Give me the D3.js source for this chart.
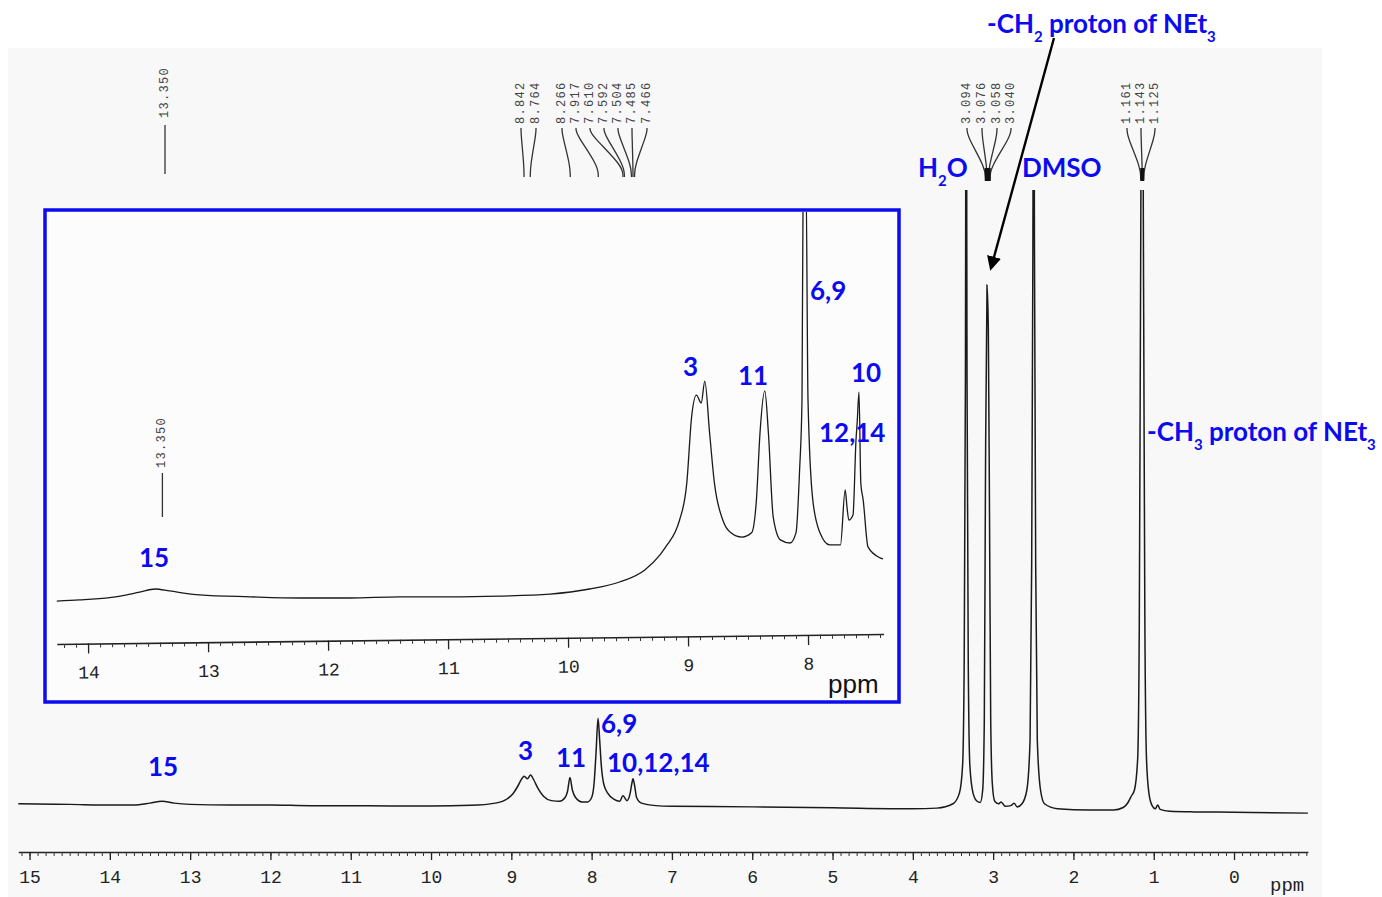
<!DOCTYPE html>
<html><head><meta charset="utf-8">
<script src="https://cdn.jsdelivr.net/npm/d3@7"></script>
<style>body{margin:0;background:#fff}</style>
</head><body>
<svg id="c" width="1382" height="897"></svg>
<script>
// ---------------- DATA ----------------
// main 1H NMR trace: [ppm, relative intensity]
const mainSpectrum = [
 [15.14,1.8],[14.5,1.7],[14.0,1.6],[13.7,1.6],[13.5,1.9],[13.35,2.2],[13.2,1.9],[13.0,1.7],[12.5,1.6],[12.0,1.6],
 [11.5,1.5],[11.0,1.5],[10.5,1.45],[10.0,1.45],[9.5,1.55],[9.2,1.9],[9.05,2.6],[8.98,3.4],[8.92,4.6],[8.87,5.8],
 [8.84,6.2],[8.80,5.8],[8.76,6.4],[8.72,5.6],[8.67,4.3],[8.60,3.0],[8.50,2.3],[8.40,2.2],[8.33,2.8],[8.30,3.8],
 [8.27,6.0],[8.24,4.0],[8.20,2.8],[8.12,2.1],[8.05,2.1],[8.0,2.8],[7.97,5.0],[7.945,10],[7.92,15.5],[7.90,12],
 [7.88,8],[7.85,5],[7.80,3.5],[7.72,2.5],[7.65,2.2],[7.61,3.1],[7.595,2.9],[7.56,2.3],[7.52,3.5],[7.50,5.0],
 [7.485,5.8],[7.466,4.8],[7.44,2.8],[7.38,1.9],[7.2,1.5],[7.0,1.4],[6.0,1.3],[5.0,1.15],[4.0,1.0],[3.7,1.1],
 [3.5,1.8],[3.42,3.5],[3.38,8],[3.36,25],[3.345,70],[3.335,140],[3.325,70],[3.31,25],[3.29,8],[3.25,3.5],
 [3.20,2.2],[3.16,2.0],[3.13,4],[3.11,15],[3.095,55],[3.076,84.8],[3.06,78],[3.045,48],[3.03,15],[3.01,5],
 [2.98,2.2],[2.93,1.8],[2.90,2.1],[2.85,1.4],[2.78,1.5],[2.74,1.9],[2.70,1.3],[2.64,1.8],[2.58,4],[2.54,12],
 [2.52,40],[2.505,90],[2.495,140],[2.485,90],[2.47,40],[2.45,12],[2.41,4],[2.36,1.8],[2.2,1.0],[1.8,0.8],
 [1.5,0.8],[1.38,1.2],[1.32,2.0],[1.28,3.0],[1.24,4.0],[1.20,9],[1.18,30],[1.165,80],[1.145,140],[1.125,80],
 [1.11,30],[1.09,9],[1.06,3.5],[1.02,1.5],[0.98,1.0],[0.95,1.6],[0.92,0.9],[0.80,0.6],[0.5,0.5],[0.0,0.45],[-0.92,0.3]
];
// inset (expanded aromatic region) trace: [ppm, relative intensity]
const insetSpectrum = [
 [14.26,1.0],[14.07,1.3],[13.73,2.3],[13.57,3.3],[13.44,4.1],[13.32,3.6],[13.07,2.6],[12.65,2.1],[12.23,1.8],[11.82,1.8],
 [11.4,2.1],[10.98,2.1],[10.57,2.3],[10.15,2.8],[9.82,4.1],[9.57,5.9],[9.36,9.0],[9.23,13.0],[9.17,15.6],[9.11,18.5],
 [9.07,21.8],[9.01,31.3],[8.97,48.2],[8.93,53.8],[8.89,51.8],[8.86,57.4],[8.82,44.1],[8.78,31.3],[8.71,21.8],[8.65,18.7],
 [8.55,17.4],[8.47,18.5],[8.43,26.9],[8.40,44.1],[8.36,54.9],[8.33,44.1],[8.29,22.6],[8.23,16.7],[8.15,15.9],[8.10,18.5],
 [8.07,34.6],[8.05,52.6],[8.04,110],[8.017,110],[8.0,52.6],[7.96,26.9],[7.90,18.5],[7.82,15.4],[7.73,15.4],[7.69,29.5],
 [7.675,25.1],[7.66,21.8],[7.625,23.1],[7.60,42.3],[7.59,46.9],[7.575,54.6],[7.56,31.3],[7.54,26.9],[7.50,14.9],[7.40,12.1],[7.375,11.8]
];
const mainTickLabels = [15,14,13,12,11,10,9,8,7,6,5,4,3,2,1,0];
const insetTickLabels = [14,13,12,11,10,9,8];
const peakClusters = [
 [13.350],
 [8.842,8.764],
 [8.266,7.917,7.610,7.592,7.504,7.485,7.466],
 [3.094,3.076,3.058,3.040],
 [1.161,1.143,1.125]
];
const insetMarker = [13.350];
const mainAssignments = ["15","3","11","6,9","10,12,14"];
const insetAssignments = ["15","3","11","6,9","10","12,14"];

// ---------------- LAYOUT ----------------
const L = {
  mainAssignXY: [[148,776],[518,760],[556,767],[601,733],[607,772]],
  insetAssignXY: [[139,567],[683,376],[738,385],[810,300],[851,382],[819,442]],
  clusterLabelX: [[165],[521,536],[562,576,590,604,618,632,647],[967,982,997,1011],[1127,1141,1155]],
  blue: "#0b0bf0"
};

const svg = d3.select("#c");
svg.append("rect").attr("width",1382).attr("height",897).attr("fill","#fff");
svg.append("rect").attr("x",8).attr("y",48).attr("width",1314).attr("height",849).attr("fill","#f8f8f8");

const defs = svg.append("defs");
defs.append("clipPath").attr("id","mainClip").append("rect").attr("x",0).attr("y",190).attr("width",1382).attr("height",707);
defs.append("clipPath").attr("id","insetClip").append("rect").attr("x",47).attr("y",212).attr("width",850).attr("height",488);
defs.append("marker").attr("id","arr").attr("viewBox","0 0 10 10").attr("refX",8).attr("refY",5)
  .attr("markerWidth",6).attr("markerHeight",6).attr("orient","auto-start-reverse").attr("markerUnits","strokeWidth")
  .append("path").attr("d","M0,0 L10,5 L0,10 z").attr("fill","#000");

// ---------------- MAIN SPECTRUM ----------------
const x = d3.scaleLinear().domain([15.14,-0.92]).range([18.3,1307.9]);
const y = d3.scaleLinear().domain([0,100]).range([815,190]);
const line = d3.line().x(d=>x(d[0])).y(d=>y(d[1])).curve(d3.curveMonotoneX);

svg.append("path").datum(mainSpectrum.slice().sort((a,b)=>a[0]-b[0]))
  .attr("clip-path","url(#mainClip)")
  .attr("d",line).attr("fill","none").attr("stroke","#1a1a1a").attr("stroke-width",1.5);

const axisY = 852;
const minor = d3.range(-9,152).map(v=>v/10).filter(v=>v<=15.14 && v>=-0.92);
svg.append("g").attr("transform",`translate(0,${axisY})`)
  .call(d3.axisBottom(x).tickValues(minor).tickSize(4).tickFormat("").tickSizeOuter(0))
  .call(g=>g.select(".domain").attr("stroke","#222").attr("stroke-width",1.6))
  .call(g=>g.selectAll(".tick line").attr("stroke","#333"));
svg.append("g").attr("transform",`translate(0,${axisY})`)
  .call(d3.axisBottom(x).tickValues(mainTickLabels).tickSize(8).tickPadding(10).tickFormat(d3.format("d")).tickSizeOuter(0))
  .call(g=>g.select(".domain").remove())
  .call(g=>g.selectAll(".tick line").attr("stroke","#222").attr("stroke-width",1.3))
  .call(g=>g.selectAll("text").attr("font-family","Liberation Mono").attr("font-size",18).attr("fill","#222"));
svg.append("text").attr("x",1270).attr("y",891).attr("font-family","Liberation Mono").attr("font-size",19)
  .attr("fill","#222").text("ppm");

// peak-picking labels
peakClusters.forEach((cl,ci)=>{
  cl.forEach((p,i)=>{
    const lx = L.clusterLabelX[ci][i], px = x(p);
    const single = cl.length===1;
    const topText = single ? 118 : 124;
    svg.append("text").attr("transform",`translate(${lx},${topText}) rotate(-90)`)
      .attr("dominant-baseline","central").attr("font-family","Liberation Mono").attr("font-size",12)
      .attr("letter-spacing",1.3).attr("fill","#444").text(p.toFixed(3));
    let pts;
    if (single) pts = [[lx,125],[lx,174]];
    else if (ci>=3) pts = [[lx,128],[lx,136],[px,168],[px,180]];
    else pts = [[lx,128],[lx,134],[px,166],[px,177]];
    svg.append("path").attr("d",d3.line().curve(d3.curveBasis)(pts))
      .attr("fill","none").attr("stroke","#333").attr("stroke-width",1.3);
  });
  if (cl.length>2 && (ci>=3)) {
    const px = d3.mean(cl,p=>x(p));
    svg.append("line").attr("x1",px).attr("x2",px).attr("y1",168).attr("y2",181)
      .attr("stroke","#111").attr("stroke-width",ci===3?6:4);
  }
});

// ---------------- INSET ----------------
svg.append("rect").attr("x",45).attr("y",210).attr("width",854).attr("height",492)
  .attr("fill","#fcfcfc").attr("stroke",L.blue).attr("stroke-width",3.5);
const xi = d3.scaleLinear().domain([14.3,7.3]).range([52,892]);
const yi = d3.scaleLinear().domain([0,100]).range([605,215]);
const lineI = d3.line().x(d=>xi(d[0])).y(d=>yi(d[1])).curve(d3.curveMonotoneX);
svg.append("path").datum(insetSpectrum.slice().sort((a,b)=>a[0]-b[0]))
  .attr("clip-path","url(#insetClip)")
  .attr("d",lineI).attr("fill","none").attr("stroke","#1a1a1a").attr("stroke-width",1.3);

const insetAxisG = svg.append("g").attr("transform","rotate(-0.69,470,639)");
const xiAxis = d3.scaleLinear().domain([14.26,7.37]).range([xi(14.26),xi(7.37)]);
const minorI = d3.range(74,143).map(v=>v/10);
insetAxisG.append("g").attr("transform","translate(0,639)")
  .call(d3.axisBottom(xiAxis).tickValues(minorI).tickSize(4).tickFormat("").tickSizeOuter(0))
  .call(g=>g.select(".domain").attr("stroke","#222").attr("stroke-width",1.6))
  .call(g=>g.selectAll(".tick line").attr("stroke","#333"));
insetAxisG.append("g").attr("transform","translate(0,639)")
  .call(d3.axisBottom(xiAxis).tickValues(insetTickLabels).tickSize(10).tickPadding(12).tickFormat(d3.format("d")).tickSizeOuter(0))
  .call(g=>g.select(".domain").remove())
  .call(g=>g.selectAll(".tick line").attr("stroke","#222").attr("stroke-width",1.3))
  .call(g=>g.selectAll("text").attr("font-family","Liberation Mono").attr("font-size",18).attr("fill","#222"));
svg.append("text").attr("x",828).attr("y",693).attr("font-family","Liberation Sans").attr("font-size",26)
  .attr("fill","#111").text("ppm");

insetMarker.forEach(p=>{
  const mx = xi(p+0.03);
  svg.append("text").attr("transform",`translate(${mx},468) rotate(-90)`)
    .attr("dominant-baseline","central").attr("font-family","Liberation Mono").attr("font-size",12)
    .attr("letter-spacing",1.3).attr("fill","#444").text(p.toFixed(3));
  svg.append("line").attr("x1",mx).attr("x2",mx).attr("y1",473).attr("y2",517).attr("stroke","#333").attr("stroke-width",1.3);
});

// ---------------- ANNOTATIONS ----------------
const bold = t=>t.attr("font-family","Lato").attr("font-weight","bold").attr("fill",L.blue);
mainAssignments.forEach((t,i)=>{
  bold(svg.append("text")).attr("x",L.mainAssignXY[i][0]).attr("y",L.mainAssignXY[i][1]).attr("font-size",26).text(t);
});
insetAssignments.forEach((t,i)=>{
  bold(svg.append("text")).attr("x",L.insetAssignXY[i][0]).attr("y",L.insetAssignXY[i][1]).attr("font-size",26).text(t);
});

function subLabel(xp,yp,parts,fs){
  const t = bold(svg.append("text")).attr("x",xp).attr("y",yp).attr("font-size",fs);
  parts.forEach(([s,sub],i)=>{
    const prev = i>0 && parts[i-1][1];
    const ts = t.append("tspan").text(s).attr("dy", sub ? 9 : (prev ? -9 : 0));
    if (sub) ts.attr("font-size",15);
  });
  return t;
}
subLabel(987,33,[["-CH",0],["2",1],[" proton of NEt",0],["3",1]],26);
subLabel(1147,441,[["-CH",0],["3",1],[" proton of NEt",0],["3",1]],26);
subLabel(918,177,[["H",0],["2",1],["O",0]],26);
bold(svg.append("text")).attr("x",1022).attr("y",177).attr("font-size",26).text("DMSO");

// arrow
svg.append("line").attr("x1",1054).attr("y1",38).attr("x2",991).attr("y2",268)
  .attr("stroke","#000").attr("stroke-width",2.4).attr("marker-end","url(#arr)");
</script>
</body></html>
